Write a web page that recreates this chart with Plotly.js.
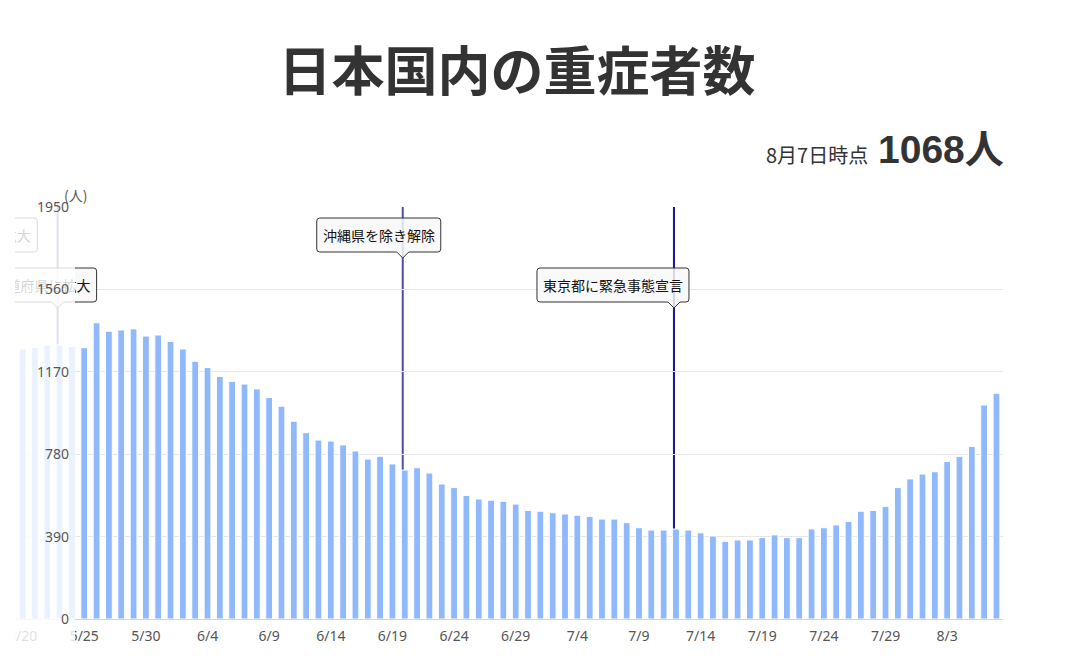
<!DOCTYPE html>
<html><head><meta charset="utf-8">
<script src="https://cdn.plot.ly/plotly-3.0.1.min.js"></script>
<style>
html,body{margin:0;padding:0;background:#fff;width:1081px;height:659px;overflow:hidden;}
#chart{position:absolute;left:15px;top:0;width:1066px;height:659px;overflow:hidden;}
#mask{position:absolute;left:15px;top:186px;width:60px;height:473px;background:rgba(255,255,255,0.82);pointer-events:none;}
#axis{position:absolute;left:0;top:0;width:1081px;height:659px;pointer-events:none;}
</style></head><body>
<div id="chart"></div><div id="mask"></div><div id="axis"></div>
<script>
// ---- data ----
const dates = ['5/20','5/21','5/22','5/23','5/24','5/25','5/26','5/27','5/28','5/29','5/30','5/31',
 '6/1','6/2','6/3','6/4','6/5','6/6','6/7','6/8','6/9','6/10','6/11','6/12','6/13','6/14','6/15','6/16','6/17','6/18','6/19','6/20','6/21','6/22','6/23','6/24','6/25','6/26','6/27','6/28','6/29','6/30',
 '7/1','7/2','7/3','7/4','7/5','7/6','7/7','7/8','7/9','7/10','7/11','7/12','7/13','7/14','7/15','7/16','7/17','7/18','7/19','7/20','7/21','7/22','7/23','7/24','7/25','7/26','7/27','7/28','7/29','7/30','7/31',
 '8/1','8/2','8/3','8/4','8/5','8/6','8/7'];
const severe = [1278,1284,1297,1297,1289,1284,1402,1362,1368,1373,1339,1344,
 1314,1278,1220,1190,1148,1125,1112,1089,1048,1007,936,882,847,842,824,795,757,770,734,705,716,691,639,622,585,568,562,557,544,514,
 510,503,497,491,486,473,473,456,432,421,421,426,421,408,393,368,374,374,385,398,385,385,426,432,445,462,510,514,533,622,663,
 686,697,746,770,817,1013,1068];
const tickDates = ['5/20','5/25','5/30','6/4','6/9','6/14','6/19','6/24','6/29','7/4','7/9','7/14','7/19','7/24','7/29','8/3'];
const yTicks = [0,390,780,1170,1560,1950];
const yTickText = ['0','390','780','1170','1560','1950'];
const eventDates = ['5/16','5/23','6/20','7/12'];
const eventLabels = ['9都道府県に拡大','10都道府県に拡大','沖縄県を除き解除','東京都に緊急事態宣言'];
const chartTitle = '日本国内の重症者数';
const asOfLabel = '8月7日時点';
const unitLabel = '(人)';
const latestValue = severe[severe.length-1];

// ---- helpers ----
const CJK = '"Noto Sans CJK JP", "Noto Sans", sans-serif';
const PLOT_TOP = 207, PLOT_BOTTOM = 619;
const XR = [-0.617, 79.53];
const toPaperY = py => (PLOT_BOTTOM - py) / (PLOT_BOTTOM - PLOT_TOP);
const toPaperX = idx => (idx - XR[0]) / (XR[1] - XR[0]);
const baseDate = new Date(2021, 4, 20);
function dayIndex(md){ const [m,d] = md.split('/').map(Number); return Math.round((new Date(2021, m-1, d) - baseDate)/86400000); }
const ctx = document.createElement('canvas').getContext('2d');
ctx.font = '14px "Noto Sans CJK JP"';
const textW = t => ctx.measureText(t).width;

// label layout (style/position): row and right edge offset from event line
const evStyle = [
  {row:0, right:66, color:'#4f4fa3'},
  {row:1, right:39, color:'#4f4fa3'},
  {row:0, right:38, color:'#4f4fa3'},
  {row:1, right:15, color:'#13139b'}
];
const rows = [{top:218,bottom:252,tip:258},{top:268,bottom:302,tip:308}];
const LX = -2;

function boxPath(L,R,B,T,r){
  return `M ${L+r},${B} L ${LX-6},${B} L ${LX},0 L ${LX+6},${B} L ${R-r},${B} Q ${R},${B} ${R},${B+r} `+
         `L ${R},${T-r} Q ${R},${T} ${R-r},${T} L ${L+r},${T} Q ${L},${T} ${L},${T-r} L ${L},${B+r} Q ${L},${B} ${L+r},${B} Z`;
}

const shapes = [], annotations = [];
eventDates.forEach((d,i)=>{
  const idx = dayIndex(d), st = evStyle[i], rw = rows[st.row];
  shapes.push({type:'line', xref:'x', xsizemode:'pixel', xanchor:idx, x0:LX, x1:LX,
    yref:'y', y0:0, y1:1950, line:{color:st.color, width:2}, layer:'below'});
  const w = textW(eventLabels[i]) + 12;
  const R = LX + st.right, L = R - w;
  const B = rw.tip - rw.bottom, T = rw.tip - rw.top;
  shapes.push({type:'path', xref:'x', xsizemode:'pixel', xanchor:idx, yref:'paper', ysizemode:'pixel',
    yanchor:toPaperY(rw.tip), path:boxPath(L,R,B,T,3), fillcolor:'rgba(248,248,248,0.85)',
    line:{color:'#333', width:1}, layer:'above'});
  annotations.push({xref:'paper', x:toPaperX(idx), xshift:(L+R)/2, yref:'paper', y:toPaperY((rw.top+rw.bottom)/2),
    text:eventLabels[i], showarrow:false, font:{family:CJK, size:14, color:'#111'},
    xanchor:'center', yanchor:'middle'});
});

Plotly.newPlot('chart', [{
  type:'bar', x:dates, y:severe,
  marker:{color:'#8fb8fd', line:{color:'#ffffff', width:1}},
  hoverinfo:'skip'
}], {
  width:1066, height:659, margin:{l:0,r:78,t:207,b:40},
  paper_bgcolor:'rgba(0,0,0,0)', plot_bgcolor:'rgba(0,0,0,0)',
  showlegend:false, bargap:0.45,
  xaxis:{type:'category', range:XR, tickvals:tickDates, ticktext:tickDates,
    tickfont:{family:'Noto Sans', size:14, color:'#555'}, showgrid:false, showline:true,
    linecolor:'#ccd6eb', linewidth:1, ticks:'', ticklabelstandoff:4, fixedrange:true},
  yaxis:{range:[0,1950], tickvals:yTicks, showticklabels:false, gridcolor:'#e6e6e6', gridwidth:1,
    zeroline:false, fixedrange:true},
  shapes:shapes, annotations:annotations
}, {staticPlot:true, displayModeBar:false});

Plotly.newPlot('axis', [], {
  width:1081, height:659, margin:{l:70,r:78,t:207,b:40},
  paper_bgcolor:'rgba(0,0,0,0)', plot_bgcolor:'rgba(0,0,0,0)',
  showlegend:false,
  title:{text:chartTitle, font:{family:CJK, size:53, color:'#333', weight:700},
    xref:'container', x:517/1081, yref:'container', y:1-72/659, xanchor:'center', yanchor:'middle'},
  xaxis:{visible:false, range:[0,1], fixedrange:true},
  yaxis:{range:[0,1950], tickvals:yTicks, ticktext:yTickText, tickfont:{family:'Noto Sans', size:14, color:'#555'},
    showgrid:false, zeroline:false, showline:false, ticks:'', fixedrange:true},
  annotations:[
    {xref:'paper', x:0, xshift:5, yref:'paper', y:1, yshift:12, text:unitLabel, showarrow:false,
      font:{family:CJK, size:14, color:'#555'}, xanchor:'center', yanchor:'middle'},
    {xref:'paper', x:1, xshift:-133, yref:'paper', y:1, yshift:53, text:asOfLabel, showarrow:false,
      font:{family:CJK, size:20, color:'#333'}, xanchor:'right', yanchor:'middle'},
    {xref:'paper', x:1, xshift:3, yref:'paper', y:1, yshift:58, text:latestValue + '人', showarrow:false,
      font:{family:'"Liberation Sans", "Noto Sans CJK JP", sans-serif', size:39, color:'#333', weight:700},
      xanchor:'right', yanchor:'middle'}
  ]
}, {staticPlot:true, displayModeBar:false});
</script>
</body></html>
